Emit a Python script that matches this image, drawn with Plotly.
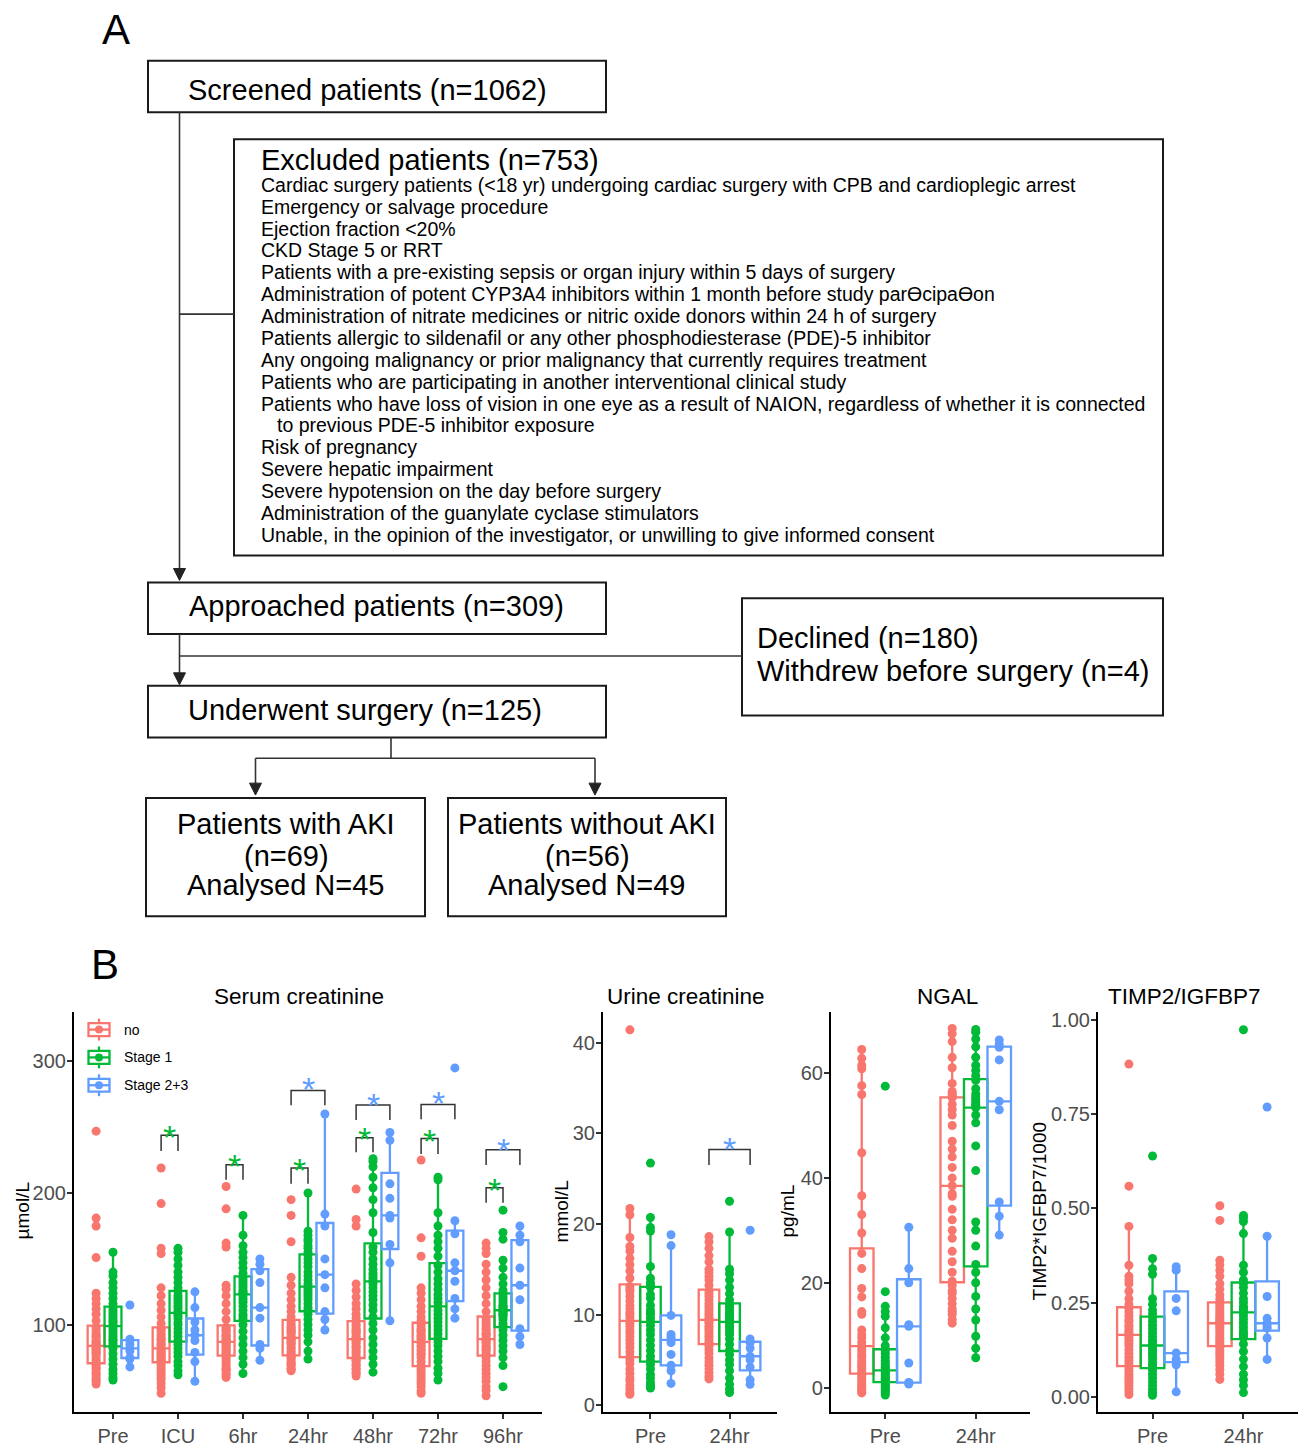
import plotly.graph_objects as go

# page body has an 8px default margin: the figure is placed at (8, 8)
PAGE_OFF = 8
W, H = 1306 - PAGE_OFF, 1447 - PAGE_OFF
FONT = "Liberation Sans, Arial, sans-serif"
GROUPS = ["no", "Stage 1", "Stage 2+3"]
COLORS = ["#F8766D", "#00BA38", "#619CFF"]

serum_times = ["Pre", "ICU", "6hr", "24hr", "48hr", "72hr", "96hr"]
two_times = ["Pre", "24hr"]

# ---------------- Serum creatinine (umol/L) ----------------
serum_no = [
    [247, 181, 175, 151, 124, 120, 116, 112, 108, 103, 98, 96, 94, 92, 91, 90, 88, 87, 86, 85, 84, 83, 82, 81, 80, 79, 78, 77, 75, 73, 71, 70, 68, 67, 65, 63, 62, 60, 58, 57, 55],
    [219, 192, 158, 154, 128, 122, 116, 111, 106, 101, 97, 96, 94, 92, 90, 89, 88, 86, 85, 84, 82, 81, 80, 79, 78, 77, 76, 75, 74, 73, 72, 70, 68, 66, 64, 62, 60, 58, 55, 52, 48],
    [205, 188, 162, 159, 130, 127, 122, 116, 110, 104, 98, 97, 96, 95, 93, 92, 91, 90, 89, 88, 87, 86, 85, 84, 83, 82, 81, 80, 79, 78, 77, 75, 73, 71, 69, 67, 66, 65, 63, 62, 60],
    [195, 183, 163, 136, 130, 124, 119, 114, 110, 106, 103, 101, 99, 98, 97, 96, 95, 94, 93, 91, 90, 89, 88, 87, 86, 85, 83, 82, 80, 79, 77, 76, 75, 74, 72, 71, 70, 69, 67, 66, 65],
    [203, 180, 175, 131, 126, 121, 116, 112, 108, 105, 102, 100, 99, 97, 96, 95, 94, 93, 91, 90, 89, 88, 87, 86, 84, 83, 82, 80, 79, 77, 75, 74, 73, 72, 70, 69, 67, 66, 64, 63, 61],
    [225, 166, 152, 128, 124, 119, 114, 110, 106, 103, 101, 99, 97, 96, 95, 94, 92, 91, 90, 89, 87, 86, 84, 83, 81, 80, 78, 77, 75, 72, 69, 67, 65, 63, 61, 59, 57, 55, 53, 50, 48],
    [162, 158, 154, 146, 140, 134, 128, 122, 116, 110, 105, 103, 101, 99, 97, 96, 94, 93, 92, 90, 89, 88, 87, 86, 84, 83, 82, 81, 80, 78, 77, 75, 72, 69, 66, 63, 60, 57, 53, 50, 46],
]
serum_s1 = [
    [155, 140, 137, 132, 128, 124, 120, 116, 113, 111, 109, 107, 105, 103, 102, 100, 99, 97, 95, 93, 91, 89, 88, 86, 84, 82, 78, 74, 70, 66, 63, 60, 58],
    [158, 155, 150, 145, 140, 136, 132, 128, 125, 122, 120, 118, 116, 114, 112, 110, 109, 107, 105, 102, 100, 97, 94, 91, 88, 85, 82, 79, 76, 72, 69, 65, 62],
    [183, 168, 160, 155, 151, 147, 143, 139, 136, 134, 132, 130, 128, 126, 125, 124, 123, 121, 119, 117, 114, 111, 108, 106, 104, 100, 95, 90, 85, 80, 75, 70, 63],
    [200, 171, 168, 165, 163, 160, 158, 155, 153, 150, 147, 144, 140, 137, 134, 131, 129, 127, 125, 123, 121, 119, 116, 113, 111, 108, 104, 100, 96, 92, 87, 80, 74],
    [226, 224, 220, 212, 204, 195, 185, 170, 159, 155, 150, 146, 142, 139, 137, 135, 133, 131, 128, 125, 122, 119, 115, 111, 106, 101, 96, 90, 85, 80, 75, 70, 64],
    [212, 210, 185, 175, 168, 163, 158, 152, 145, 140, 135, 131, 127, 123, 120, 117, 114, 111, 108, 105, 102, 99, 96, 93, 90, 87, 84, 80, 76, 72, 67, 63, 58],
    [187, 170, 165, 149, 143, 136, 131, 126, 123, 121, 119, 117, 115, 114, 113, 112, 111, 110, 109, 108, 107, 106, 104, 101, 99, 96, 92, 88, 84, 80, 75, 69, 53],
]
serum_s23 = [
    [115, 89, 88, 85, 82, 80, 75, 74, 68],
    [125, 113, 102, 96, 92, 88, 79, 72, 57],
    [150, 146, 141, 132, 113, 105, 85, 82, 73],
    [260, 184, 175, 150, 138, 128, 110, 104, 96],
    [246, 240, 207, 196, 183, 181, 161, 147, 103],
    [295, 179, 169, 147, 141, 133, 120, 112, 105],
    [175, 168, 163, 143, 130, 119, 97, 91, 85],
]

# ---------------- Urine creatinine (mmol/L) ----------------
urine_no = [
    [41.4, 21.7, 21.0, 18.5, 17.5, 17.0, 16.2, 15.5, 14.8, 14.0, 13.1, 12.8, 12.5, 12.0, 11.5, 11.0, 10.6, 10.2, 10.0, 9.7, 9.3, 9.0, 8.7, 8.3, 8.0, 7.6, 7.2, 6.8, 6.4, 5.9, 5.4, 5.0, 4.6, 4.0, 3.5, 3.0, 2.7, 2.2, 1.8, 1.4, 1.2],
    [18.6, 18.0, 17.3, 16.5, 15.8, 15.0, 14.6, 14.2, 13.8, 13.2, 12.6, 12.3, 12.0, 11.6, 11.2, 10.9, 10.6, 10.3, 10.0, 9.7, 9.4, 9.2, 9.0, 8.7, 8.5, 8.2, 7.9, 7.6, 7.3, 7.0, 6.8, 6.5, 6.1, 5.7, 5.2, 4.8, 4.4, 4.0, 3.6, 3.2, 2.9],
]
urine_s1 = [
    [26.7, 20.7, 19.6, 19.2, 15.3, 14.0, 13.5, 13.2, 13.0, 12.2, 11.8, 11.0, 10.5, 10.2, 10.0, 9.6, 9.2, 8.8, 8.3, 7.8, 7.2, 6.6, 6.0, 5.4, 4.9, 4.5, 4.0, 3.4, 3.0, 2.5, 2.2, 2.0, 1.9],
    [22.5, 19.1, 15.0, 14.5, 13.8, 13.0, 12.3, 11.6, 11.1, 10.8, 10.5, 10.2, 10.0, 9.8, 9.6, 9.4, 9.2, 9.0, 8.7, 8.4, 8.1, 7.8, 7.3, 6.7, 6.1, 5.6, 5.0, 4.5, 3.8, 3.0, 2.3, 1.8, 1.4],
]
urine_s23 = [
    [18.8, 17.6, 9.9, 7.8, 7.5, 6.9, 5.6, 4.4, 3.8, 2.4],
    [19.3, 7.3, 6.9, 6.3, 5.4, 5.0, 4.2, 2.8, 2.3],
]

# ---------------- NGAL (pg/mL) ----------------
ngal_no = [
    [64.5, 62.8, 61.5, 60.8, 57.6, 55.9, 44.8, 36.6, 33.0, 29.5, 25.6, 22.7, 18.9, 17.3, 14.5, 14.0, 11.0, 10.1, 9.5, 8.6, 7.9, 7.3, 6.8, 6.2, 5.7, 5.1, 4.6, 4.2, 3.8, 3.3, 2.8, 2.3, 1.9, 1.5, 1.0, 0.6, 0.2, -0.2, -0.5, -0.8, -1.0],
    [68.5, 67.5, 66.0, 63.0, 61.0, 58.0, 56.5, 56.0, 55.8, 55.5, 55.3, 54.0, 53.0, 52.0, 50.0, 47.0, 45.5, 44.0, 42.0, 40.0, 38.5, 37.0, 36.5, 34.0, 32.0, 30.0, 28.5, 26.0, 24.0, 22.0, 20.3, 19.5, 18.5, 18.0, 17.0, 16.0, 15.0, 14.5, 14.0, 13.0, 12.3],
]
ngal_s1 = [
    [57.5, 18.3, 15.5, 14.5, 13.6, 11.4, 9.5, 8.0, 7.1, 6.5, 5.8, 5.2, 4.7, 4.3, 3.9, 3.6, 3.3, 3.0, 2.7, 2.4, 2.1, 1.8, 1.6, 1.3, 1.1, 0.9, 0.6, 0.3, 0.0, -0.3, -0.7, -1.0, -1.4],
    [68.3, 67.8, 66.5, 65.0, 63.0, 61.5, 60.5, 59.5, 58.6, 57.0, 56.0, 55.5, 55.0, 54.5, 54.0, 53.8, 53.4, 52.0, 50.5, 46.1, 41.4, 31.6, 30.0, 27.0, 23.5, 22.0, 20.0, 17.4, 15.0, 12.9, 9.8, 7.5, 5.7],
]
ngal_s23 = [
    [30.6, 22.7, 20.0, 12.0, 11.7, 4.7, 1.0, 0.9, 0.7],
    [66.3, 65.5, 64.9, 62.5, 54.6, 53.0, 35.4, 32.7, 29.1],
]

# ---------------- TIMP2*IGFBP7/1000 ----------------
timp_no = [
    [0.883, 0.559, 0.452, 0.349, 0.32, 0.31, 0.30, 0.28, 0.26, 0.245, 0.235, 0.225, 0.215, 0.205, 0.20, 0.19, 0.185, 0.178, 0.172, 0.168, 0.164, 0.158, 0.15, 0.142, 0.135, 0.125, 0.115, 0.105, 0.097, 0.09, 0.083, 0.075, 0.068, 0.06, 0.052, 0.045, 0.038, 0.03, 0.022, 0.014, 0.006],
    [0.507, 0.468, 0.362, 0.35, 0.335, 0.32, 0.30, 0.285, 0.27, 0.258, 0.248, 0.242, 0.235, 0.228, 0.222, 0.216, 0.21, 0.205, 0.2, 0.198, 0.195, 0.19, 0.184, 0.178, 0.172, 0.165, 0.158, 0.152, 0.146, 0.14, 0.136, 0.13, 0.122, 0.115, 0.108, 0.1, 0.092, 0.083, 0.072, 0.06, 0.046],
]
timp_s1 = [
    [0.639, 0.367, 0.34, 0.325, 0.26, 0.245, 0.23, 0.22, 0.21, 0.2, 0.19, 0.18, 0.17, 0.16, 0.15, 0.143, 0.136, 0.13, 0.123, 0.115, 0.108, 0.1, 0.092, 0.085, 0.078, 0.07, 0.06, 0.05, 0.04, 0.03, 0.02, 0.012, 0.004],
    [0.974, 0.481, 0.475, 0.465, 0.433, 0.349, 0.33, 0.31, 0.301, 0.29, 0.275, 0.26, 0.25, 0.24, 0.235, 0.23, 0.224, 0.215, 0.205, 0.195, 0.185, 0.175, 0.168, 0.162, 0.157, 0.14, 0.12, 0.1, 0.08, 0.06, 0.045, 0.03, 0.011],
]
timp_s23 = [
    [0.345, 0.336, 0.261, 0.228, 0.116, 0.10, 0.094, 0.085, 0.013],
    [0.769, 0.426, 0.266, 0.208, 0.195, 0.188, 0.182, 0.156, 0.099],
]

# significance brackets: (time index, compared group index, top, leg bottom, star y)
serum_brackets = [
    (1, 1, 243.9, 232.0, 249.7), (2, 1, 221.5, 210.0, 227.0),
    (3, 1, 219.0, 207.0, 224.5), (3, 2, 277.9, 266.6, 285.7),
    (4, 1, 242.0, 231.0, 248.0), (4, 2, 266.8, 255.5, 274.0),
    (5, 1, 241.4, 229.6, 246.4), (5, 2, 267.3, 256.0, 274.9),
    (6, 1, 204.0, 192.6, 209.4), (6, 2, 232.8, 221.3, 239.9),
]
urine_brackets = [(1, 2, 28.2, 26.5, 29.2)]

# flowchart text
excluded_lines = [
    "Cardiac surgery patients (&lt;18 yr) undergoing cardiac surgery with CPB and cardioplegic arrest",
    "Emergency or salvage procedure",
    "Ejection fraction &lt;20%",
    "CKD Stage 5 or RRT",
    "Patients with a pre-existing sepsis or organ injury within 5 days of surgery",
    "Administration of potent CYP3A4 inhibitors within 1 month before study parƟcipaƟon",
    "Administration of nitrate medicines or nitric oxide donors within 24 h of surgery",
    "Patients allergic to sildenafil or any other phosphodiesterase (PDE)-5 inhibitor",
    "Any ongoing malignancy or prior malignancy that currently requires treatment",
    "Patients who are participating in another interventional clinical study",
    "Patients who have loss of vision in one eye as a result of NAION, regardless of whether it is connected",
    "to previous PDE-5 inhibitor exposure",
    "Risk of pregnancy",
    "Severe hepatic impairment",
    "Severe hypotension on the day before surgery",
    "Administration of the guanylate cyclase stimulators",
    "Unable, in the opinion of the investigator, or unwilling to give informed consent",
]

BOXGAP = 0.22
OFF = (1 - BOXGAP) / 3


def fx(x):
    return (x - PAGE_OFF) / W


def fy(y):
    return 1 - (y - PAGE_OFF) / H


panels = [
    dict(times=serum_times, data=[serum_no, serum_s1, serum_s23], xd=(74, 542),
         yr=(33.6, 337.7), tv=[100, 200, 300], tf="", yt="µmol/L", ytx=22,
         title="Serum creatinine", tx=299, br=serum_brackets),
    dict(times=two_times, data=[urine_no, urine_s1, urine_s23], xd=(603, 777),
         yr=(-0.77, 43.4), tv=[0, 10, 20, 30, 40], tf="", yt="mmol/L", ytx=561,
         title="Urine creatinine", tx=686, br=urine_brackets),
    dict(times=two_times, data=[ngal_no, ngal_s1, ngal_s23], xd=(831, 1030),
         yr=(-4.68, 71.7), tv=[0, 20, 40, 60], tf="", yt="pg/mL", ytx=787,
         title="NGAL", tx=947, br=[]),
    dict(times=two_times, data=[timp_no, timp_s1, timp_s23], xd=(1098, 1298),
         yr=(-0.041, 1.022), tv=[0, 0.25, 0.5, 0.75, 1.0], tf=".2f",
         yt="TIMP2*IGFBP7/1000", ytx=1039, title="TIMP2/IGFBP7", tx=1184, br=[]),
]

fig = go.Figure()
shapes = []
annotations = []
layout_axes = {}

for pi, p in enumerate(panels):
    sfx = "" if pi == 0 else str(pi + 1)
    for gi, (g, col) in enumerate(zip(GROUPS, COLORS)):
        xs, ys = [], []
        for t, vals in zip(p["times"], p["data"][gi]):
            xs += [t] * len(vals)
            ys += vals
        fig.add_trace(go.Box(
            x=xs, y=ys, name=g, xaxis="x" + sfx, yaxis="y" + sfx,
            marker=dict(color=col, size=9, line=dict(width=0)),
            line=dict(color=col, width=2.3), fillcolor="rgba(0,0,0,0)",
            boxpoints="all", jitter=0, pointpos=0, whiskerwidth=0,
            offsetgroup=g, alignmentgroup="p%d" % pi,
            showlegend=False, hoverinfo="y",
        ))
    n = len(p["times"])
    layout_axes["xaxis" + sfx] = dict(
        domain=[fx(p["xd"][0]), fx(p["xd"][1])], anchor="y" + sfx,
        type="category", categoryorder="array", categoryarray=p["times"],
        range=[-0.6, n - 1 + 0.6], showline=True, linecolor="black", linewidth=2.2,
        ticks="outside", ticklen=5, tickwidth=1.5, tickcolor="#333333",
        tickfont=dict(size=20, color="#4D4D4D"), showgrid=False, zeroline=False,
    )
    layout_axes["yaxis" + sfx] = dict(
        domain=[fy(1418), fy(1015)], anchor="x" + sfx, range=list(p["yr"]),
        tickvals=p["tv"], tickformat=p["tf"], showline=True, linecolor="black",
        linewidth=2.2, ticks="outside", ticklen=5, tickwidth=1.5, tickcolor="#333333",
        tickfont=dict(size=20, color="#4D4D4D"), showgrid=False, zeroline=False,
        ticklabelstandoff=-3,
    )
    annotations.append(dict(text=p["title"], x=fx(p["tx"]), y=fy(1000), xref="paper",
                            yref="paper", showarrow=False, xanchor="center",
                            yanchor="middle", font=dict(size=22.5, color="black")))
    annotations.append(dict(text=p["yt"], x=fx(p["ytx"]), y=fy(1216), xref="paper",
                            yref="paper", showarrow=False, textangle=-90,
                            xanchor="center", yanchor="middle",
                            font=dict(size=19, color="black")))
    for (ti, gi, ytop, ybot, ystar) in p["br"]:
        left = ti - OFF
        right = ti + (gi - 1) * OFF
        shapes.append(dict(type="path", xref="x" + sfx, yref="y" + sfx,
                           path="M %f,%f L %f,%f L %f,%f L %f,%f" % (
                               left, ybot, left, ytop, right, ytop, right, ybot),
                           line=dict(color="#333333", width=1.5)))
        annotations.append(dict(text="*", x=(left + right) / 2, y=ystar,
                                xref="x" + sfx, yref="y" + sfx, showarrow=False,
                                xanchor="center", yanchor="middle", yshift=-9,
                                font=dict(size=34, color=COLORS[gi])))

# ---------------- legend (ggplot-style boxplot keys) ----------------
for gi, (g, col) in enumerate(zip(GROUPS, COLORS)):
    yc = 1033 + 28 * gi
    shapes.append(dict(type="line", xref="paper", yref="paper", x0=fx(99), x1=fx(99),
                       y0=fy(yc - 11), y1=fy(yc + 11), line=dict(color=col, width=2.3)))
    shapes.append(dict(type="rect", xref="paper", yref="paper", x0=fx(88.5), x1=fx(109.5),
                       y0=fy(yc - 6.5), y1=fy(yc + 6.5), fillcolor="white",
                       line=dict(color=col, width=2.3)))
    shapes.append(dict(type="line", xref="paper", yref="paper", x0=fx(88.5), x1=fx(109.5),
                       y0=fy(yc), y1=fy(yc), line=dict(color=col, width=2.3)))
    shapes.append(dict(type="circle", xref="paper", yref="paper", x0=fx(95), x1=fx(103),
                       y0=fy(yc - 4), y1=fy(yc + 4), fillcolor=col,
                       line=dict(color=col, width=0)))
    annotations.append(dict(text=g, x=fx(122), y=fy(yc), xref="paper", yref="paper",
                            showarrow=False, xanchor="left", yanchor="middle",
                            font=dict(size=14, color="black")))

# ---------------- Flowchart (panel A) ----------------
rects = [(148, 58, 606, 110), (234, 137, 1163, 556), (148, 583, 606, 635),
         (742, 599, 1163, 717), (148, 687, 606, 739), (146, 800, 425, 919),
         (448, 800, 726, 919)]
for (x0, y0, x1, y1) in rects:
    shapes.append(dict(type="rect", xref="paper", yref="paper", x0=fx(x0), y0=fy(y0),
                       x1=fx(x1), y1=fy(y1), line=dict(color="#1a1a1a", width=2)))

segments = [((179.5, 110), (179.5, 571)), ((179.5, 313), (234, 313)),
            ((179.5, 635), (179.5, 675)), ((179.5, 657), (742, 657)),
            ((391, 739), (391, 760)), ((255.5, 760), (595, 760)),
            ((255.5, 760), (255.5, 787)), ((595, 760), (595, 787))]
for (a, b) in segments:
    shapes.append(dict(type="line", xref="paper", yref="paper", x0=fx(a[0]), y0=fy(a[1]),
                       x1=fx(b[0]), y1=fy(b[1]), line=dict(color="#333333", width=1.6)))

arrow_tips = [(179.5, 581), (179.5, 686), (255.5, 797), (595, 797)]
for (ax_, ay_) in arrow_tips:
    path = "M %f,%f L %f,%f L %f,%f Z" % (fx(ax_), fy(ay_), fx(ax_ - 6), fy(ay_ - 12),
                                          fx(ax_ + 6), fy(ay_ - 12))
    shapes.append(dict(type="path", xref="paper", yref="paper", path=path,
                       fillcolor="#222222", line=dict(color="#222222", width=1)))


def txt(s, x, y, size, anchor="center"):
    annotations.append(dict(text=s, x=fx(x), y=fy(y), xref="paper", yref="paper",
                            showarrow=False, xanchor=anchor, yanchor="middle",
                            font=dict(size=size, color="black")))


txt("A", 116, 27, 42)
txt("B", 105, 967, 42)
txt("Screened patients (n=1062)", 368, 87, 29)
txt("Excluded patients (n=753)", 259, 158, 29, "left")
for i, line in enumerate(excluded_lines):
    xl = 275 if line.startswith("to previous") else 259
    txt(line, xl, 183 + 22 * i, 19.5, "left")
txt("Approached patients (n=309)", 377, 607, 29)
txt("Declined (n=180)", 755, 639, 29, "left")
txt("Withdrew before surgery (n=4)", 755, 672, 29, "left")
txt("Underwent surgery (n=125)", 365, 711, 29)
for s, yy in zip(["Patients with AKI", "(n=69)", "Analysed N=45"], [826, 858, 888]):
    txt(s, 286, yy, 29)
for s, yy in zip(["Patients without AKI", "(n=56)", "Analysed N=49"], [826, 858, 888]):
    txt(s, 587, yy, 29)

fig.update_layout(
    width=W, height=H, margin=dict(l=0, r=0, t=0, b=0),
    paper_bgcolor="white", plot_bgcolor="white",
    font=dict(family=FONT, color="black"),
    boxmode="group", boxgap=BOXGAP, boxgroupgap=0,
    shapes=shapes, annotations=annotations, showlegend=False,
    **layout_axes,
)

fig.write_html("out.html")
